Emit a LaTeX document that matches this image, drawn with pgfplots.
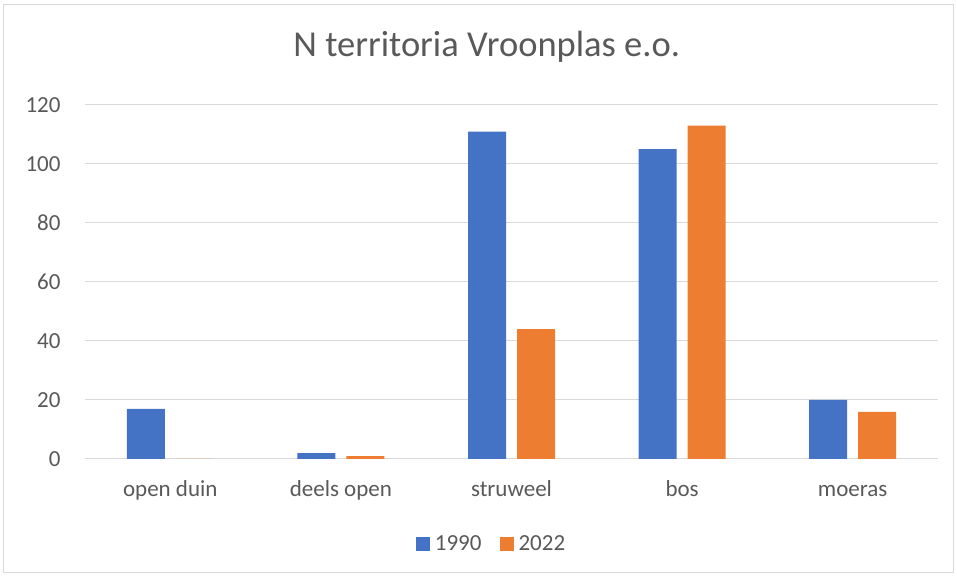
\documentclass[border=0pt]{standalone}
\usepackage{pgfplots}
\pgfplotsset{compat=1.18}
\usepackage{fontspec}
\setmainfont{Carlito}
\definecolor{cblue}{HTML}{4472C4}
\definecolor{corange}{HTML}{ED7D31}
\definecolor{cgrid}{HTML}{D9D9D9}
\definecolor{ctext}{HTML}{595959}
\begin{document}
\begin{tikzpicture}
\path[use as bounding box] (0bp,0bp) rectangle (957bp,577bp);
\draw[cgrid, line width=1bp] (3bp,4bp) rectangle (953bp,572bp);
\begin{axis}[
  at={(85bp,118bp)}, anchor=south west,
  scale only axis, width=853bp, height=354bp,
  ymin=0, ymax=120, ytick={0,20,...,120},
  xmin=-0.5, xmax=4.5,
  xtick={0,1,2,3,4},
  xticklabels={open duin,deels open,struweel,bos,moeras},
  ybar=11bp, bar width=38bp,
  axis lines*=left,
  y axis line style={draw=none},
  x axis line style={cgrid, line width=1bp},
  ymajorgrids, grid style={cgrid, line width=1bp},
  major tick length=0pt,
  tick label style={text=ctext, font=\fontsize{23bp}{26bp}\selectfont},
  yticklabel style={xshift=-21bp},
  xticklabel style={anchor=base, yshift=-38bp},
  /pgf/number format/assume math mode=true,
  title={N territoria Vroonplas e.o.},
  title style={at={(0.471,1.1215)}, anchor=base, text=ctext, font=\fontsize{36.5bp}{40bp}\selectfont},
  legend style={at={(0.476,-0.24)}, anchor=center, legend columns=2, draw=none,
    font=\fontsize{23bp}{26bp}\selectfont, text=ctext,
    nodes={inner sep=1bp},
    /tikz/every odd column/.append style={column sep=4bp},
    /tikz/every even column/.append style={column sep=17bp}},
  legend image code/.code={\fill[#1] (0bp,-7bp) rectangle (14bp,7bp);},
]
\addplot[fill=cblue, draw=none] coordinates {(0,17) (1,2) (2,111) (3,105) (4,20)};
\addplot[fill=corange, draw=none] coordinates {(0,0) (1,1) (2,44) (3,113) (4,16)};
\legend{1990,2022}
\end{axis}
\end{tikzpicture}
\end{document}
